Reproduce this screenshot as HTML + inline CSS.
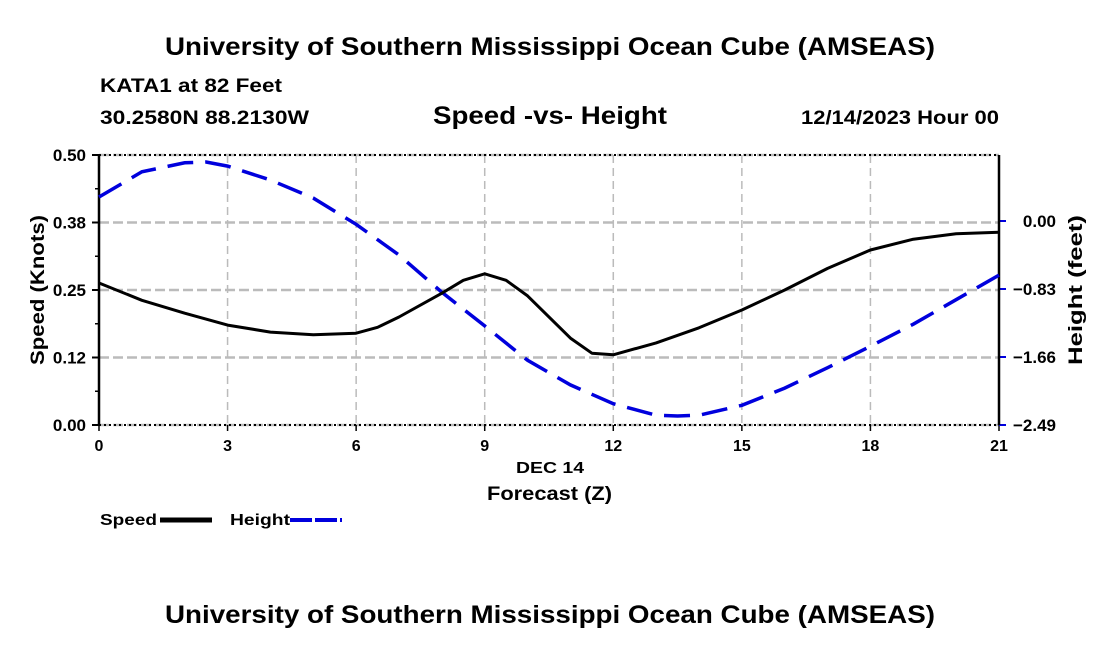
<!DOCTYPE html>
<html><head><meta charset="utf-8"><style>
body{margin:0;background:#fff;}
svg text{font-family:"Liberation Sans",Arial,sans-serif;font-weight:bold;fill:#000;}
</style></head><body>
<svg width="1100" height="650" viewBox="0 0 1100 650" xmlns="http://www.w3.org/2000/svg">
<text x="165" y="55" font-size="25" textLength="770" lengthAdjust="spacingAndGlyphs">University of Southern Mississippi Ocean Cube (AMSEAS)</text>
<text x="100" y="92" font-size="19" textLength="182" lengthAdjust="spacingAndGlyphs">KATA1 at 82 Feet</text>
<text x="100" y="124" font-size="19" textLength="209" lengthAdjust="spacingAndGlyphs">30.2580N  88.2130W</text>
<text x="433" y="124" font-size="25" textLength="234" lengthAdjust="spacingAndGlyphs">Speed -vs- Height</text>
<text x="801" y="124" font-size="19" textLength="198" lengthAdjust="spacingAndGlyphs">12/14/2023 Hour 00</text>
<g id="grid"></g>
<g id="axes"></g>
<g id="series"></g>
<text x="516" y="473" font-size="16" textLength="68" lengthAdjust="spacingAndGlyphs">DEC 14</text>
<text x="487" y="500" font-size="19" textLength="125" lengthAdjust="spacingAndGlyphs">Forecast (Z)</text>
<text transform="translate(44,290) rotate(-90)" font-size="19" text-anchor="middle" textLength="150" lengthAdjust="spacingAndGlyphs">Speed (Knots)</text>
<text transform="translate(1082,290) rotate(-90)" font-size="19" text-anchor="middle" textLength="150" lengthAdjust="spacingAndGlyphs">Height (feet)</text>
<g>
<text x="100" y="525" font-size="16" textLength="57" lengthAdjust="spacingAndGlyphs">Speed</text>
<line x1="160" y1="520" x2="212" y2="520" stroke="#000" stroke-width="5"/></g>
<g>
<text x="230" y="525" font-size="16" textLength="60" lengthAdjust="spacingAndGlyphs">Height</text>
<line x1="290" y1="520" x2="342" y2="520" stroke="#0000dd" stroke-width="4" stroke-dasharray="22,3"/></g>
<text x="165" y="623" font-size="25" textLength="770" lengthAdjust="spacingAndGlyphs">University of Southern Mississippi Ocean Cube (AMSEAS)</text>
</svg>
<script>
const hours=[0,1,2,3,4,5,6,6.5,7,8,8.5,9,9.5,10,11,11.5,12,13,14,15,16,17,18,19,20,21];
const speed=[0.263,0.231,0.207,0.185,0.172,0.167,0.170,0.181,0.2,0.244,0.268,0.28,0.268,0.239,0.161,0.133,0.13,0.152,0.18,0.213,0.25,0.29,0.324,0.344,0.354,0.357];
const hHours=[0,1,2,2.5,3,4,5,6,7,8,9,10,11,12,13,13.5,14,15,16,17,18,19,20,21];
const height=[0.293,0.60,0.71,0.72,0.67,0.50,0.28,-0.04,-0.415,-0.87,-1.28,-1.70,-2.0,-2.23,-2.37,-2.38,-2.37,-2.25,-2.04,-1.79,-1.53,-1.26,-0.96,-0.66];
const xTicks=[0,3,6,9,12,15,18,21];
const leftTicks=[0,0.125,0.25,0.375,0.5];
const leftLabels=["0.00","0.12","0.25","0.38","0.50"];
const rightTicks=[0,-0.83,-1.66,-2.49];
const rightLabels=["0.00","\u22120.83","\u22121.66","\u22122.49"];
const NS="http://www.w3.org/2000/svg";
const X0=99,X1=999,Y0=425,Y1=155;
const xs=h=>X0+(h/21)*(X1-X0);
const ys=v=>Y0-(v/0.5)*(Y0-Y1);
const yh=v=>221-(v/0.83)*68;
function mk(p,t,a){const e=document.createElementNS(NS,t);for(const k in a)e.setAttribute(k,a[k]);p.appendChild(e);return e;}
const grid=document.getElementById('grid'),axes=document.getElementById('axes'),ser=document.getElementById('series');
xTicks.forEach(h=>{const l=mk(grid,'line',{x1:xs(h),x2:xs(h),y1:Y1,y2:Y0,stroke:'#bbb','stroke-width':1.5,'stroke-dasharray':'8,5'});


const tk=mk(axes,'line',{x1:xs(h),x2:xs(h),y1:Y0,y2:Y0+6,stroke:'#000','stroke-width':1.5});


const t=mk(axes,'text',{x:xs(h),y:Y0+26,'font-size':16,'text-anchor':'middle'});t.textContent=h;

});
leftTicks.forEach((v,i)=>{const l=mk(grid,'line',{x1:X0,x2:X1,y1:ys(v),y2:ys(v),stroke:'#bbb','stroke-width':2.5,'stroke-dasharray':'10,4'});


mk(axes,'line',{x1:X0-7,x2:X0,y1:ys(v),y2:ys(v),stroke:'#000','stroke-width':2});
const t=mk(axes,'text',{x:X0-13,y:ys(v)+6,'font-size':17,'text-anchor':'end'});t.textContent=leftLabels[i];


if(i<4)mk(axes,'line',{x1:X0-4,x2:X0,y1:ys(v+0.0625),y2:ys(v+0.0625),stroke:'#000','stroke-width':1.5});});
rightTicks.forEach((v,i)=>{mk(axes,'line',{x1:X1,x2:X1+7,y1:yh(v),y2:yh(v),stroke:'#0000dd','stroke-width':2});
const t=mk(axes,'text',{x:1056,y:yh(v)+6,'font-size':17,'text-anchor':'end'});t.textContent=rightLabels[i];

});
mk(axes,'line',{x1:X0,x2:X1,y1:Y1,y2:Y1,stroke:'#000','stroke-width':2,'stroke-dasharray':'2,3'});
mk(axes,'line',{x1:X0,x2:X1,y1:Y0,y2:Y0,stroke:'#000','stroke-width':2,'stroke-dasharray':'2,3'});
mk(axes,'line',{x1:X0,x2:X0,y1:Y1,y2:Y0,stroke:'#000','stroke-width':2.5});
mk(axes,'line',{x1:X1,x2:X1,y1:Y1,y2:Y0,stroke:'#000','stroke-width':2.5});
function path(xv,yv,fx,fy){return xv.map((h,i)=>(i?'L':'M')+fx(h).toFixed(1)+','+fy(yv[i]).toFixed(1)).join(' ');}
const hp=mk(ser,'path',{d:path(hHours,height,xs,yh),fill:'none',stroke:'#0000dd','stroke-width':3.5,'stroke-dasharray':'26,12'});


const sp=mk(ser,'path',{d:path(hours,speed,xs,ys),fill:'none',stroke:'#000','stroke-width':3,'stroke-linejoin':'round'});


</script>
</body></html>
